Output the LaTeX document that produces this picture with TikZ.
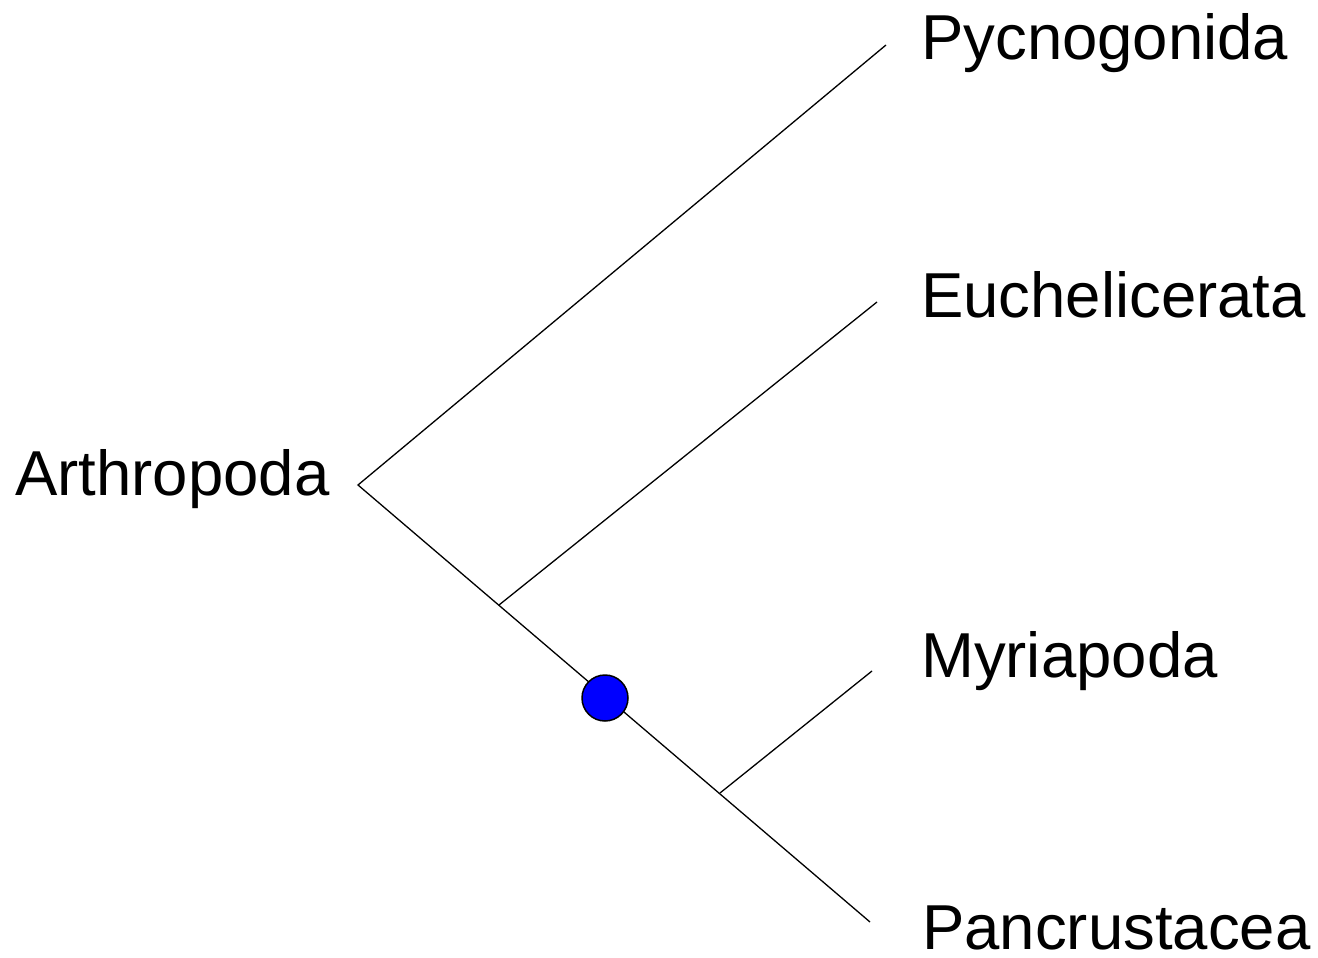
\documentclass[tikz,border=0pt]{standalone}
\usepackage{fontspec}
\setmainfont{Liberation Sans}
\begin{document}
\begin{tikzpicture}[x=1pt,y=-1pt,
  lbl/.style={anchor=base west,inner sep=0pt,font=\fontsize{63.5}{70}\selectfont},
  branch/.style={draw=black,line width=1.3pt}]
\useasboundingbox (0,0) rectangle (1318,958);
\coordinate (root) at (358,485);
\coordinate (n1) at (499,605);
\coordinate (n2) at (720,793);
\coordinate (tP) at (886,45);
\coordinate (tE) at (877,302);
\coordinate (tM) at (872,671);
\coordinate (tC) at (870,922);
\node[lbl] (lA) at (15,495) {Arthropoda};
\node[lbl] (lP) at (921,60) {Pycnogonida};
\node[lbl] (lE) at (921,317) {Euchelicerata};
\node[lbl] (lM) at (921,677) {Myriapoda};
\node[lbl] (lC) at (922,949) {Pancrustacea};
\draw[branch] (tP) -- (root) -- (tC);
\draw[branch] (n1) -- (tE);
\draw[branch] (n2) -- (tM);
\node[circle,draw=black,line width=1.5pt,fill=blue,minimum size=46pt,inner sep=0pt] (dot) at (605,698) {};
\end{tikzpicture}
\end{document}
